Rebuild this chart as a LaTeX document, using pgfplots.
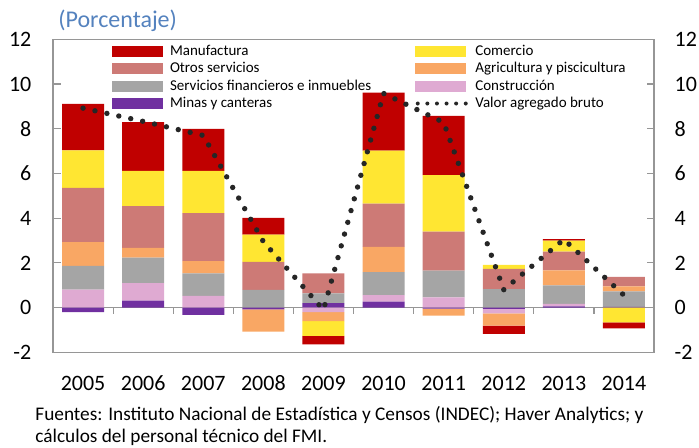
\documentclass[border=0pt]{standalone}
\usepackage{pgfplots}
\pgfplotsset{compat=1.18}
\usepackage{pgfplotstable}
\usepackage{fontspec}
\setmainfont{Carlito}
\definecolor{cManuf}{RGB}{192,0,0}
\definecolor{cCom}{RGB}{255,230,50}
\definecolor{cOtros}{RGB}{205,122,118}
\definecolor{cAgri}{RGB}{249,167,100}
\definecolor{cFin}{RGB}{165,165,165}
\definecolor{cConst}{RGB}{223,170,210}
\definecolor{cMinas}{RGB}{112,48,160}
\definecolor{cLine}{RGB}{38,38,38}
\definecolor{cFrame}{RGB}{150,150,150}
\definecolor{cTitle}{RGB}{84,130,190}
\pgfplotsset{
  barlegend/.style={legend image code/.code={\fill[##1] (0pt,-2.75pt) rectangle (25.5pt,2.75pt);}},
  dotlegend/.style={legend image code/.code={\draw[##1] (1.2pt,0pt) -- (25.5pt,0pt);}},
}
% positive contributions
\pgfplotstableread{
x mi co fi ag ot cm ma
0 0    0.80 1.07 1.06 2.43 1.67 2.08
1 0.31 0.79 1.13 0.44 1.87 1.57 2.19
2 0    0.52 1.01 0.55 2.14 1.89 1.88
3 0    0    0.79 0    1.26 1.21 0.75
4 0.20 0    0.44 0    0.89 0    0
5 0.27 0.29 1.03 1.13 1.93 2.37 2.59
6 0    0.46 1.19 0    1.75 2.53 2.65
7 0    0    0.83 0    0.90 0.18 0
8 0.05 0.12 0.82 0.67 0.84 0.50 0.06
9 0.03 0    0.70 0.22 0.42 0    0
}\postab
% negative contributions
\pgfplotstableread{
x mi co fi ag ot cm ma
0 -0.20 0     0 0     0 0     0
1 0     0     0 0     0 0     0
2 -0.33 0     0 0     0 0     0
3 -0.08 0     0 -0.99 0 0     0
4 0     -0.20 0 -0.40 0 -0.67 -0.37
5 0     0     0 0     0 0     0
6 -0.05 0     0 -0.31 0 0     0
7 -0.06 -0.20 0 -0.55 0 0     -0.37
8 0     0     0 0     0 0     0
9 0     0     0 0     0 -0.66 -0.27
}\negtab
\pgfplotstableread{
x v
0 8.92
1 8.33
2 7.70
3 2.95
4 -0.10
5 9.58
6 8.28
7 0.80
8 3.05
9 0.55
}\vabtab
\begin{document}
\begin{tikzpicture}
\pgfplotsset{
  base/.style={scale only axis, width=300.5pt, height=156.5pt,
    at={(26.5pt,47.35pt)}, anchor=south west,
    xmin=-0.5, xmax=9.5, ymin=-2, ymax=12},
  barbase/.style={base, hide axis, ybar stacked, bar width=21pt},
}
% frame, ticks, labels, legend
\begin{axis}[base,
  axis line style={color=cFrame, line width=0.6pt},
  ytick={-2,0,...,12}, tick pos=both,
  xtick={0,...,9}, xticklabels={2005,2006,2007,2008,2009,2010,2011,2012,2013,2014},
  xtick style={draw=none},
  ytick style={color=cFrame, line width=0.6pt},
  major tick length=3.75pt,
  tick label style={font=\fontsize{11}{13}\selectfont},
  /pgf/number format/assume math mode=true,
  yticklabel style={xshift=-7.3pt},
  xticklabel style={yshift=-8.2pt},
  legend columns=2, legend cell align=left,
  legend style={draw=none, fill=none, at={(rel axis cs:0,1)}, anchor=north west,
    xshift=29.5pt, yshift=-2.35pt, font=\fontsize{7.5}{9}\selectfont,
    inner sep=0pt, outer sep=0pt, row sep=1.75pt,
    nodes={inner sep=0pt, text height=5.5pt, text depth=1.5pt},
    /tikz/every odd column/.append style={column sep=3.5pt},
    /tikz/every even column/.append style={column sep=22pt}},
  barlegend,
]
\addlegendimage{barlegend, fill=cManuf, draw=none}\addlegendentry{Manufactura}
\addlegendimage{barlegend, fill=cCom, draw=none}\addlegendentry{Comercio}
\addlegendimage{barlegend, fill=cOtros, draw=none}\addlegendentry{Otros servicios}
\addlegendimage{barlegend, fill=cAgri, draw=none}\addlegendentry{Agricultura y piscicultura}
\addlegendimage{barlegend, fill=cFin, draw=none}\addlegendentry{Servicios financieros e inmuebles}
\addlegendimage{barlegend, fill=cConst, draw=none}\addlegendentry{Construcción}
\addlegendimage{barlegend, fill=cMinas, draw=none}\addlegendentry{Minas y canteras}
\addlegendimage{dotlegend, color=cLine, line width=2pt, line cap=round, dash pattern=on 0pt off 4.8pt}
\addlegendentry{Valor agregado bruto}
\end{axis}
% zero line with category ticks
\begin{axis}[base,
  axis x line=middle, axis y line=none,
  x axis line style={-, color=cFrame, line width=0.6pt},
  xtick={0.5,1.5,...,8.5}, xticklabels={},
  xtick style={color=cFrame, line width=0.6pt},
  xtick align=outside, major tick length=3pt,
]
\end{axis}
% positive bars
\begin{axis}[barbase]
\addplot[fill=cMinas, draw=none] table[x=x, y=mi] {\postab};
\addplot[fill=cConst, draw=none] table[x=x, y=co] {\postab};
\addplot[fill=cFin, draw=none] table[x=x, y=fi] {\postab};
\addplot[fill=cAgri, draw=none] table[x=x, y=ag] {\postab};
\addplot[fill=cOtros, draw=none] table[x=x, y=ot] {\postab};
\addplot[fill=cCom, draw=none] table[x=x, y=cm] {\postab};
\addplot[fill=cManuf, draw=none] table[x=x, y=ma] {\postab};
\end{axis}
% negative bars
\begin{axis}[barbase]
\addplot[fill=cMinas, draw=none] table[x=x, y=mi] {\negtab};
\addplot[fill=cConst, draw=none] table[x=x, y=co] {\negtab};
\addplot[fill=cFin, draw=none] table[x=x, y=fi] {\negtab};
\addplot[fill=cAgri, draw=none] table[x=x, y=ag] {\negtab};
\addplot[fill=cOtros, draw=none] table[x=x, y=ot] {\negtab};
\addplot[fill=cCom, draw=none] table[x=x, y=cm] {\negtab};
\addplot[fill=cManuf, draw=none] table[x=x, y=ma] {\negtab};
\end{axis}
% line and right tick labels
\begin{axis}[base,
  axis x line=none, axis y line*=right,
  y axis line style={draw=none}, ytick style={draw=none},
  ytick={-2,0,...,12},
  tick label style={font=\fontsize{11}{13}\selectfont},
  /pgf/number format/assume math mode=true,
  yticklabel style={xshift=6.8pt},
]
\addplot[color=cLine, line width=2.7pt, line cap=round, dash pattern=on 0pt off 6.1pt]
  table[x=x, y=v] {\vabtab};
\end{axis}
\node[anchor=base west, font=\fontsize{12}{14}\selectfont, color=cTitle, inner sep=0pt]
  at (29pt,210pt) {(Porcentaje)};
\node[anchor=base west, font=\fontsize{9.65}{11}\selectfont, inner sep=0pt]
  at (17.5pt,13.5pt) {Fuentes: Instituto Nacional de Estadística y Censos (INDEC); Haver Analytics; y};
\node[anchor=base west, font=\fontsize{9.65}{11}\selectfont, inner sep=0pt]
  at (17.5pt,2.5pt) {cálculos del personal técnico del FMI.};
\pgfresetboundingbox
\path[use as bounding box] (0,0) rectangle (349.5pt,223.5pt);
\end{tikzpicture}
\end{document}
